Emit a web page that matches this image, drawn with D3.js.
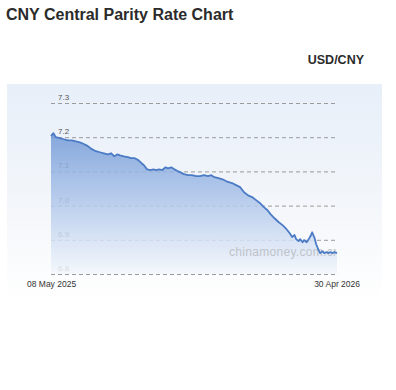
<!DOCTYPE html>
<html>
<head>
<meta charset="utf-8">
<script src="https://cdn.jsdelivr.net/npm/d3@7"></script>
<style>
  body { margin: 0; background: #fff; font-family: Arial, "Liberation Sans", sans-serif; }
</style>
</head>
<body>
<div id="chart"></div>
<script>
// data
var dates = ["2025-05-08","2025-05-11","2025-05-14","2025-05-19","2025-05-24","2025-05-29","2025-06-03","2025-06-08",
  "2025-06-13","2025-06-18","2025-06-23","2025-06-28","2025-07-03","2025-07-08","2025-07-13","2025-07-18","2025-07-22",
  "2025-07-26","2025-07-30","2025-08-02","2025-08-07","2025-08-12","2025-08-16","2025-08-20","2025-08-25","2025-08-29",
  "2025-09-01","2025-09-05","2025-09-09","2025-09-13","2025-09-16","2025-09-20","2025-09-24","2025-09-28","2025-10-01",
  "2025-10-05","2025-10-09","2025-10-13","2025-10-16","2025-10-21","2025-10-26","2025-10-31","2025-11-05","2025-11-10",
  "2025-11-15","2025-11-20","2025-11-24","2025-11-28","2025-12-03","2025-12-08","2025-12-13","2025-12-17","2025-12-20",
  "2025-12-25","2025-12-30","2026-01-04","2026-01-09","2026-01-14","2026-01-19","2026-01-24","2026-01-29","2026-02-02",
  "2026-02-06","2026-02-11","2026-02-16","2026-02-21","2026-02-26","2026-03-02","2026-03-05","2026-03-08","2026-03-10",
  "2026-03-13","2026-03-15","2026-03-18","2026-03-20","2026-03-23","2026-03-25","2026-03-28","2026-03-30","2026-04-02",
  "2026-04-04","2026-04-07","2026-04-09","2026-04-12","2026-04-14","2026-04-17","2026-04-19","2026-04-22","2026-04-24",
  "2026-04-27","2026-04-30"];
var rates = [7.203,7.212,7.200,7.197,7.194,7.191,7.191,7.188,
  7.185,7.180,7.174,7.165,7.159,7.156,7.153,7.150,7.153,
  7.144,7.150,7.147,7.144,7.142,7.139,7.139,7.133,7.124,
  7.118,7.106,7.104,7.106,7.104,7.106,7.104,7.112,7.109,
  7.112,7.106,7.101,7.098,7.092,7.089,7.089,7.086,7.086,
  7.089,7.086,7.089,7.083,7.080,7.077,7.071,7.068,7.066,
  7.060,7.054,7.039,7.030,7.025,7.016,7.007,6.995,6.987,
  6.975,6.963,6.952,6.943,6.931,6.919,6.908,6.914,6.902,
  6.896,6.902,6.893,6.899,6.893,6.899,6.911,6.922,6.905,
  6.887,6.870,6.861,6.867,6.861,6.864,6.861,6.864,6.861,
  6.864,6.861];
var yTicks = [6.8, 6.9, 7.0, 7.1, 7.2, 7.3];
var xLabels = ["08 May 2025", "30 Apr 2026"];

var parse = d3.timeParse("%Y-%m-%d");
var data = dates.map(function(d, i){ return { date: parse(d), value: rates[i] }; });

var W = 396, H = 390;
var svg = d3.select("#chart").append("svg").attr("width", W).attr("height", H);
var defs = svg.append("defs");

// panel background, fades to white at the bottom
var bg = defs.append("linearGradient").attr("id", "bg").attr("x1", 0).attr("y1", 0).attr("x2", 0).attr("y2", 1);
bg.append("stop").attr("offset", "0%").attr("stop-color", "#e7eff9");
bg.append("stop").attr("offset", "55%").attr("stop-color", "#f3f6fa");
bg.append("stop").attr("offset", "100%").attr("stop-color", "#ffffff");

// area fill
var af = defs.append("linearGradient").attr("id", "af").attr("gradientUnits", "userSpaceOnUse")
  .attr("x1", 0).attr("y1", 130).attr("x2", 0).attr("y2", 276);
af.append("stop").attr("offset", "0%").attr("stop-color", "#7098d6");
af.append("stop").attr("offset", "45%").attr("stop-color", "#aac3e9");
af.append("stop").attr("offset", "100%").attr("stop-color", "#f5f8fc");

// plot clip (the watermark is cut at the right edge)
defs.append("clipPath").attr("id", "plot").append("rect")
  .attr("x", 51).attr("y", 90).attr("width", 285).attr("height", 190);

// title
svg.append("text").attr("x", 6).attr("y", 20)
  .attr("font-size", "16px").attr("font-weight", "bold").attr("fill", "#2b2b2b")
  .text("CNY Central Parity Rate Chart");
svg.append("text").attr("x", 364).attr("y", 64).attr("text-anchor", "end")
  .attr("font-size", "12.5px").attr("font-weight", "bold").attr("fill", "#2b2b2b")
  .text("USD/CNY");

svg.append("rect").attr("x", 7).attr("y", 84).attr("width", 375).attr("height", 216)
  .attr("fill", "url(#bg)");

// scales
var x = d3.scaleTime().domain(d3.extent(data, function(d){ return d.date; })).range([51, 337]);
var y = d3.scaleLinear().domain([6.8, 7.3]).range([274, 103]);

// grid + labels
var grid = svg.append("g");
grid.selectAll("line").data(yTicks).enter().append("line")
  .attr("x1", 51).attr("x2", 336)
  .attr("y1", function(d){ return y(d) + 0.5; }).attr("y2", function(d){ return y(d) + 0.5; })
  .attr("stroke", "#9a9a9a").attr("stroke-dasharray", "4,3");
grid.selectAll("text").data(yTicks).enter().append("text")
  .attr("x", 58).attr("y", function(d){ return y(d) - 3; })
  .attr("font-size", "8px").attr("fill", "#555")
  .text(function(d){ return d.toFixed(1); });

// area + line
var area = d3.area().x(function(d){ return x(d.date); }).y0(274).y1(function(d){ return y(d.value); });
var line = d3.line().x(function(d){ return x(d.date); }).y(function(d){ return y(d.value); });

svg.append("path").datum(data).attr("d", area).attr("fill", "url(#af)").attr("opacity", 0.85);

// watermark (sits above the fill, under the line)
svg.append("text").attr("x", 229).attr("y", 256).attr("clip-path", "url(#plot)")
  .attr("font-size", "12px").attr("fill", "#bfc3c9").attr("letter-spacing", "0.3px")
  .text("chinamoney.com.cn");

svg.append("path").datum(data).attr("d", line)
  .attr("fill", "none").attr("stroke", "#4c7bc6").attr("stroke-width", 1.8).attr("stroke-linejoin", "round");

// x labels
svg.append("text").attr("x", 27).attr("y", 287).attr("font-size", "8.5px").attr("fill", "#333").text(xLabels[0]);
svg.append("text").attr("x", 360).attr("y", 287).attr("text-anchor", "end").attr("font-size", "8.5px").attr("fill", "#333").text(xLabels[1]);
</script>
</body>
</html>
